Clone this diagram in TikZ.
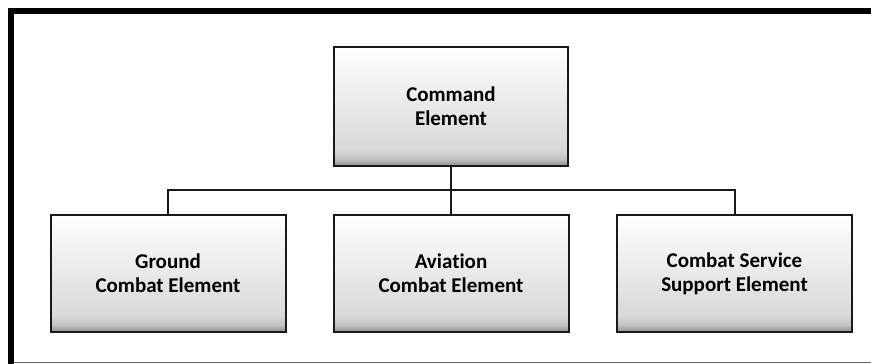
\documentclass[tikz,border=0pt]{standalone}
\usepackage{fontspec}
\setmainfont{Carlito}[Ligatures=NoCommon]
\pgfdeclareverticalshading{boxshade}{100bp}{color(0bp)=(black!50); color(25bp)=(black!45); color(28bp)=(black!24); color(32bp)=(black!15); color(75bp)=(white); color(100bp)=(white)}
\tikzset{
  elbox/.style={draw=black!90, line width=2pt, shading=boxshade, inner sep=0pt,
    align=center, font=\fontsize{21}{24}\selectfont\bfseries, text=black},
  link/.style={draw=black!90, line width=2pt}
}
\begin{document}
\begin{tikzpicture}[x=1pt,y=-1pt]
\useasboundingbox (0,0) rectangle (871,364);
% frame
\draw[line width=6pt, black] (11,364) -- (11,10.5) -- (871,10.5);
\draw[line width=1pt, black!60] (14,362.5) -- (871,362.5);
% nodes
\node[elbox, minimum width=234pt, minimum height=119pt] (top) at (451,106.5) {Command\\Element};
\node[elbox, minimum width=235pt, minimum height=117pt] (gce) at (168,273.5) {Ground\\Combat Element};
\node[elbox, minimum width=235pt, minimum height=117pt] (ace) at (451,273.5) {Aviation\\Combat Element};
\node[elbox, minimum width=235pt, minimum height=117pt] (csse) at (734.5,273.5) {Combat Service\\Support Element};
\coordinate (bar) at (451,190);
% connectors
\draw[link] (top.south) -- (ace.north);
\draw[link] (gce.north) |- (bar) -| (csse.north);
\end{tikzpicture}
\end{document}
